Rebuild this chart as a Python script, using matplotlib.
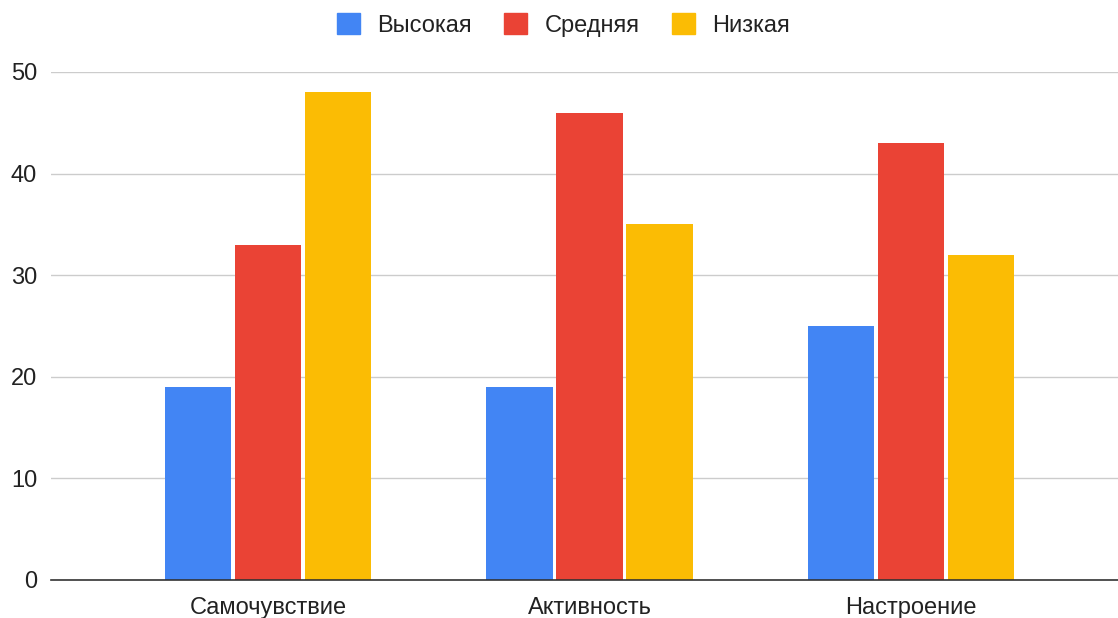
import numpy as np
import matplotlib.pyplot as plt
import matplotlib.patches as mpatches

categories = ["Самочувствие", "Активность", "Настроение"]
series_names = ["Высокая", "Средняя", "Низкая"]
high = [19, 19, 25]
medium = [33, 46, 43]
low = [48, 35, 32]
colors = ["#4285F4", "#EA4335", "#FBBC04"]

plt.rcParams["font.family"] = ["Liberation Sans", "DejaVu Sans"]

fig = plt.figure(figsize=(11.18, 6.18), dpi=100)
ax = fig.add_axes([51 / 1118, 1 - 580 / 618, 1 - 51 / 1118, (580 - 72) / 618])

x = np.arange(len(categories))
width = 0.206
step = 0.218
for i, (vals, c) in enumerate(zip([high, medium, low], colors)):
    ax.bar(x + (i - 1) * step, vals, width, color=c, zorder=3)

ax.set_xlim(-0.676, 2.645)
ax.set_ylim(0, 50)
ax.set_yticks([0, 10, 20, 30, 40, 50])
ax.set_xticks(x)
ax.set_xticklabels(categories)
ax.tick_params(axis="both", length=0, labelsize=17, colors="#222222")
ax.tick_params(axis="y", pad=10)
ax.tick_params(axis="x", pad=12)
ax.yaxis.grid(True, color="#cccccc", linewidth=1, zorder=0)
for s in ["top", "right", "left"]:
    ax.spines[s].set_visible(False)
ax.spines["bottom"].set_color("#333333")
ax.spines["bottom"].set_linewidth(1.2)
ax.spines["bottom"].set_zorder(4)

handles = [mpatches.Patch(color=c, label=n) for c, n in zip(colors, series_names)]
fig.legend(handles=handles, loc="upper center", bbox_to_anchor=(0.504, 1.013),
           ncol=3, frameon=False, fontsize=17, handlelength=0.97, handleheight=0.97,
           handletextpad=0.72, columnspacing=1.4, labelcolor="#222222")

fig.savefig("out.png", dpi=100)
